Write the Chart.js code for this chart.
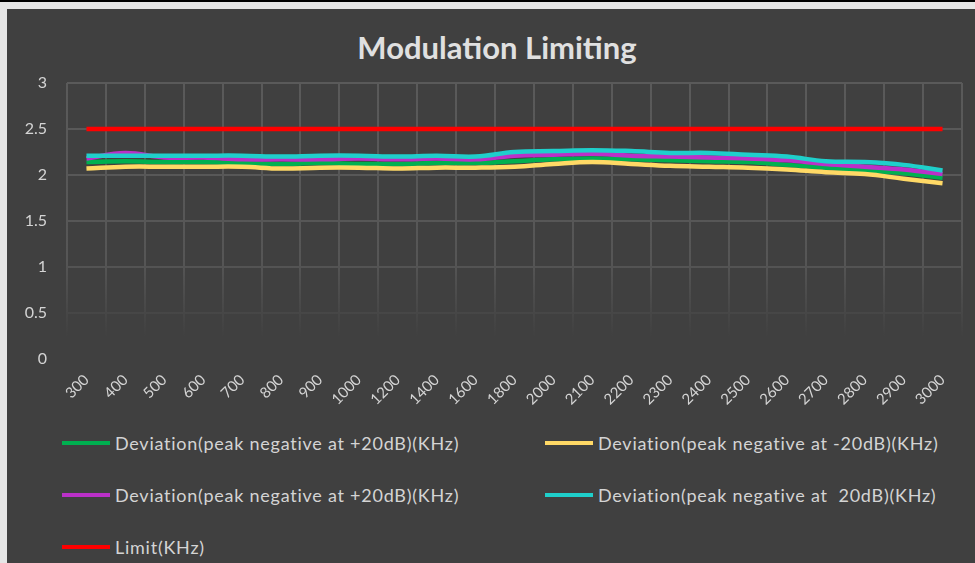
<!DOCTYPE html>
<html>
<head>
<meta charset="utf-8">
<script src="https://cdn.jsdelivr.net/npm/chart.js@4/dist/chart.umd.min.js"></script>
<style>
	html, body { margin: 0; padding: 0; }
	body { width: 975px; height: 563px; background: #e6e6e6; overflow: hidden; position: relative; }
	#topbar { position: absolute; left: 0; top: 0; width: 975px; height: 2px; background: #000; }
	#box { position: absolute; left: 7px; top: 9px; width: 990px; height: 554px; background: #404040; }
	#wrap { position: absolute; left: 0; top: 0; width: 980px; height: 420px; }
	#title { position: absolute; left: 190px; top: 20px; width: 600px; text-align: center; line-height: 37px;
		font-family: Lato, "Open Sans", sans-serif; font-size: 31px; font-weight: bold; color: #e0e0e0; }
	#legend { position: absolute; left: 0; top: 0; font-family: Lato, "Open Sans", sans-serif; font-size: 18px; letter-spacing: 0.75px; color: #d4d4d4; }
	.item { position: absolute; white-space: pre; line-height: 20px; }
	.swatch { position: absolute; top: 8px; width: 48px; height: 4px; }
	.label { position: absolute; left: 53px; top: 0; }
</style>
</head>
<body>
<div id="topbar"></div>
<div id="box">
	<div id="title">Modulation Limiting</div>
	<div id="wrap"><canvas id="chart"></canvas></div>
	<div id="legend"></div>
</div>
<script>
'use strict';

// categories (frequency, Hz)
var labels = ['300', '400', '500', '600', '700', '800', '900', '1000', '1200', '1400', '1600', '1800',
	'2000', '2100', '2200', '2300', '2400', '2500', '2600', '2700', '2800', '2900', '3000'];

// series values (KHz)
var devPlus20 = [2.14, 2.15, 2.14, 2.14, 2.13, 2.12, 2.13, 2.12, 2.12, 2.13, 2.13, 2.15,
	2.17, 2.18, 2.17, 2.16, 2.15, 2.14, 2.11, 2.08, 2.05, 2.02, 1.97];
var devMinus20 = [2.07, 2.09, 2.09, 2.09, 2.09, 2.07, 2.08, 2.08, 2.07, 2.08, 2.08, 2.09,
	2.12, 2.14, 2.12, 2.10, 2.09, 2.08, 2.06, 2.03, 2.01, 1.96, 1.91];
var devPlus20b = [2.18, 2.24, 2.19, 2.19, 2.17, 2.17, 2.17, 2.18, 2.17, 2.18, 2.17, 2.21,
	2.22, 2.23, 2.21, 2.20, 2.19, 2.18, 2.16, 2.12, 2.09, 2.06, 2.01];
var dev20 = [2.21, 2.21, 2.21, 2.21, 2.21, 2.20, 2.21, 2.21, 2.20, 2.21, 2.20, 2.25,
	2.26, 2.27, 2.26, 2.24, 2.24, 2.22, 2.20, 2.15, 2.14, 2.11, 2.05];
var limit = [2.5, 2.5, 2.5, 2.5, 2.5, 2.5, 2.5, 2.5, 2.5, 2.5, 2.5, 2.5,
	2.5, 2.5, 2.5, 2.5, 2.5, 2.5, 2.5, 2.5, 2.5, 2.5, 2.5];

// y ticks
var yMin = 0, yMax = 3, yStep = 0.5;

var seriesNames = [
	'Deviation(peak negative at +20dB)(KHz)',
	'Deviation(peak negative at -20dB)(KHz)',
	'Deviation(peak negative at +20dB)(KHz)',
	'Deviation(peak negative at  20dB)(KHz)',
	'Limit(KHz)'
];
var seriesColors = ['#00b050', '#ffd966', '#bb30c8', '#1fcfcb', '#ff0000'];
var seriesData = [devPlus20, devMinus20, devPlus20b, dev20, limit];

var textColor = '#d4d4d4';

//grid fades out toward the bottom of the plot
function gridColor(context){
	var chart = context.chart, area = chart.chartArea, g;
	if(!area){
		return '#595959';
	}
	g = chart.ctx.createLinearGradient(0, area.top, 0, area.bottom);
	g.addColorStop(0, '#5a5a5a');
	g.addColorStop(0.64, '#565656');
	g.addColorStop(0.92, '#404040');
	g.addColorStop(1, '#404040');
	return g;
}

var datasets = [], i;
for(i = 0; i < seriesData.length; i++){
	datasets.push({
		label : seriesNames[i],
		data : seriesData[i],
		borderColor : seriesColors[i],
		backgroundColor : seriesColors[i],
		borderWidth : 4.5,
		pointRadius : 0,
		tension : 0.4,
		fill : false,
		order : seriesData.length - i
	});
}

var chart = new Chart(document.getElementById('chart').getContext('2d'), {
	type : 'line',
	data : { labels : labels, datasets : datasets },
	options : {
		responsive : true,
		maintainAspectRatio : false,
		animation : false,
		events : [],
		layout : { padding : { left : 0, right : 25, top : 74, bottom : 0 } },
		plugins : {
			legend : { display : false },
			tooltip : { enabled : false },
			title : { display : false }
		},
		scales : {
			x : {
				offset : true,
				grid : { offset : true, color : gridColor, lineWidth : 2, drawTicks : false },
				border : { display : false },
				ticks : {
					color : textColor,
					font : { family : 'Lato', size : 15 },
					maxRotation : 45,
					minRotation : 45,
					autoSkip : false,
					padding : 12
				},
				afterFit : function(scale){ scale.height = 70; }
			},
			y : {
				min : yMin,
				max : yMax,
				grid : { color : gridColor, lineWidth : 2, drawTicks : false },
				border : { display : false },
				ticks : {
					stepSize : yStep,
					color : textColor,
					font : { family : 'Lato', size : 16 },
					padding : 20,
					callback : function(value){ return String(value); }
				},
				afterFit : function(scale){ scale.width = 60; }
			}
		}
	}
});

//html legend, two columns like the original
var $legend = document.getElementById('legend'),
	pos = [[55, 424], [538, 424], [55, 476], [538, 476], [55, 528]];
for(i = 0; i < seriesNames.length; i++){
	var item = document.createElement('div'),
		sw = document.createElement('span'),
		tx = document.createElement('span');
	item.className = 'item';
	item.style.left = pos[i][0] + 'px';
	item.style.top = pos[i][1] + 'px';
	sw.className = 'swatch';
	sw.style.background = seriesColors[i];
	tx.className = 'label';
	tx.textContent = seriesNames[i];
	item.appendChild(sw);
	item.appendChild(tx);
	$legend.appendChild(item);
}
</script>
</body>
</html>
